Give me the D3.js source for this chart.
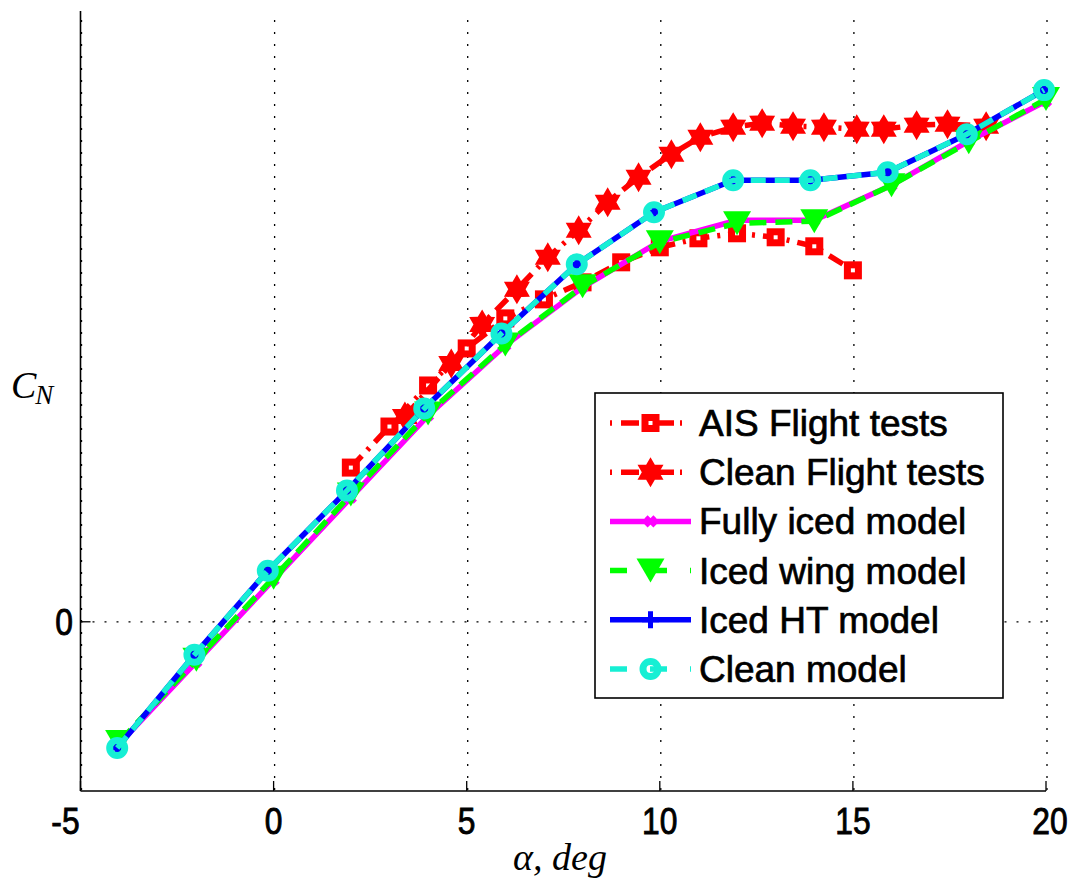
<!DOCTYPE html>
<html>
<head>
<meta charset="utf-8">
<script src="https://cdn.jsdelivr.net/npm/d3@7"></script>
<style>
  body { margin: 0; background: #fff; }
  svg { display: block; }
</style>
</head>
<body>
<div class="cn-chart"></div>
<script>
// angle of attack, deg
const alphaModel = [-4, -2, 0, 2, 4, 6, 8, 10, 12, 14, 16, 18, 20];
const alphaCleanModel = [-4.05, -2.05, -0.15, 1.9, 3.9, 5.9, 7.85, 9.85, 11.9, 13.9, 15.9, 17.95, 19.95];
const alphaAIS = [2, 3, 4, 5, 6, 7, 8, 9, 10, 11, 12, 13, 14, 15];
const alphaCleanFT = [3.4, 4.6, 5.4, 6.3, 7.1, 7.9, 8.65, 9.45, 10.3, 11.05, 11.9, 12.65, 13.45, 14.25, 15.1, 15.8, 16.65, 17.45, 18.45];

// normal force coefficient
const cnAIS = [0.385, 0.4875, 0.59, 0.6825, 0.7575, 0.805, 0.8475, 0.8975, 0.935, 0.9575, 0.97, 0.96, 0.9375, 0.8775];
const cnCleanFT = [0.5125, 0.645, 0.7425, 0.83, 0.91, 0.9775, 1.0475, 1.11, 1.1675, 1.21, 1.235, 1.245, 1.2375, 1.235, 1.23, 1.23, 1.24, 1.2425, 1.2375];
const cnFullyIced = [-0.305, -0.1, 0.105, 0.31, 0.515, 0.69, 0.835, 0.95, 1.0025, 1.0025, 1.09, 1.2, 1.3];
const cnIcedWing = [-0.3, -0.095, 0.11, 0.3175, 0.52, 0.6925, 0.8375, 0.9475, 0.995, 1.0, 1.09, 1.1975, 1.305];
const cnIcedHT = [-0.315, -0.0825, 0.1275, 0.3275, 0.5325, 0.72, 0.8925, 1.0225, 1.1025, 1.1025, 1.1225, 1.2175, 1.3275];
const cnCleanModel = [-0.315, -0.0825, 0.1275, 0.3275, 0.5325, 0.72, 0.8925, 1.0225, 1.1025, 1.1025, 1.1225, 1.2175, 1.3275];

const xTicks = [-5, 0, 5, 10, 15, 20];
const yTicks = [0];
const legendLabels = ["AIS Flight tests", "Clean Flight tests", "Fully iced model", "Iced wing model", "Iced HT model", "Clean model"];

const width = 1069, height = 878;
const plot = { left: 80.5, right: 1046, top: 11, bottom: 791 };
const cyan = "#16efd4";
const lineWidth = 5.5;

const zip = (xs, ys) => xs.map((x, i) => [x, ys[i]]);

const series = [
  { name: legendLabels[0], data: zip(alphaAIS, cnAIS), color: "#ff0000", dash: "16,8,3,8", marker: "square" },
  { name: legendLabels[1], data: zip(alphaCleanFT, cnCleanFT), color: "#ff0000", dash: "16,8,3,8", marker: "hexagram" },
  { name: legendLabels[2], data: zip(alphaModel, cnFullyIced), color: "#ff00ff", dash: null, marker: "cross" },
  { name: legendLabels[3], data: zip(alphaModel, cnIcedWing), color: "#00ff00", dash: "17,9", marker: "triangle" },
  { name: legendLabels[4], data: zip(alphaCleanModel, cnIcedHT), color: "#0000ff", dash: null, marker: "plus" },
  { name: legendLabels[5], data: zip(alphaCleanModel, cnCleanModel), color: cyan, dash: "15,9", marker: "ring" }
];

const svg = d3.select(".cn-chart")
  .append("svg")
  .attr("width", width)
  .attr("height", height);

svg.append("rect").attr("width", width).attr("height", height).attr("fill", "#fff");

const x = d3.scaleLinear().domain([-5, 20]).range([plot.left, plot.right]);
const y = d3.scaleLinear().domain([-0.4225, 1.525]).range([plot.bottom, plot.top]);

// six pointed star
const hexagramPath = r => {
  const pts = [];
  for (let i = 0; i < 12; i++) {
    const a = Math.PI / 6 * i - Math.PI / 2;
    const rr = i % 2 === 0 ? r : r * 0.58;
    pts.push([rr * Math.cos(a), rr * Math.sin(a)]);
  }
  return "M" + pts.map(p => p.join(",")).join("L") + "Z";
}

const drawMarker = (g, type, color) => {
  if (type === "square") {
    g.append("rect").attr("x", -5.5).attr("y", -5.5).attr("width", 11).attr("height", 11)
      .attr("fill", "#fff").attr("stroke", color).attr("stroke-width", 7);
  } else if (type === "hexagram") {
    g.append("path").attr("d", hexagramPath(15)).attr("fill", color);
  } else if (type === "cross") {
    g.append("path").attr("d", "M-4.5,-4.5L4.5,4.5M-4.5,4.5L4.5,-4.5")
      .attr("stroke", color).attr("stroke-width", 4.5).attr("fill", "none");
  } else if (type === "triangle") {
    g.append("path").attr("d", "M-14,-12L14,-12L0,12Z").attr("fill", color);
  } else if (type === "plus") {
    g.append("path").attr("d", "M0,-8.5V8.5M-8.5,0H8.5")
      .attr("stroke", color).attr("stroke-width", 5).attr("fill", "none");
  } else if (type === "ring") {
    g.append("circle").attr("r", 7.5).attr("fill", "none")
      .attr("stroke", color).attr("stroke-width", 7);
  }
}

// grid
const grid = svg.append("g").attr("class", "grid");
grid.selectAll(".vgrid")
  .data(xTicks)
  .enter()
  .append("line")
  .attr("x1", d => x(d) + 1).attr("x2", d => x(d) + 1)
  .attr("y1", plot.top + 9).attr("y2", plot.bottom)
  .attr("stroke", "#000").attr("stroke-width", 1.3)
  .attr("stroke-dasharray", "2,10");
grid.selectAll(".hgrid")
  .data(yTicks)
  .enter()
  .append("line")
  .attr("x1", plot.left).attr("x2", plot.right)
  .attr("y1", d => y(d)).attr("y2", d => y(d))
  .attr("stroke", "#000").attr("stroke-width", 1.3)
  .attr("stroke-dasharray", "2,10");

// axes
const axes = svg.append("g").attr("class", "axes");
axes.append("line")
  .attr("x1", plot.left).attr("x2", plot.left)
  .attr("y1", plot.top).attr("y2", plot.bottom)
  .attr("stroke", "#000").attr("stroke-width", 1.6);
axes.append("line")
  .attr("x1", plot.left).attr("x2", plot.right)
  .attr("y1", plot.bottom).attr("y2", plot.bottom)
  .attr("stroke", "#000").attr("stroke-width", 1.6);
axes.selectAll(".xtick")
  .data(xTicks)
  .enter()
  .append("line")
  .attr("x1", d => x(d)).attr("x2", d => x(d))
  .attr("y1", plot.bottom).attr("y2", plot.bottom - 10)
  .attr("stroke", "#000").attr("stroke-width", 1.3);
axes.selectAll(".ytick")
  .data(yTicks)
  .enter()
  .append("line")
  .attr("x1", plot.left).attr("x2", plot.left + 10)
  .attr("y1", d => y(d)).attr("y2", d => y(d))
  .attr("stroke", "#000").attr("stroke-width", 1.3);

axes.selectAll(".xlabel")
  .data(xTicks)
  .enter()
  .append("text")
  .attr("transform", d => {
    const px = d === -5 ? x(d) - 15 : x(d) + (d === 20 ? 4 : 0);
    return `translate(${px},${plot.bottom + 43}) scale(0.86,1)`;
  })
  .attr("text-anchor", "middle")
  .attr("font-family", "Liberation Sans, Arial, sans-serif")
  .attr("font-size", 37)
  .attr("stroke", "#000").attr("stroke-width", 0.9)
  .text(d => d);

axes.selectAll(".ylabel")
  .data(yTicks)
  .enter()
  .append("text")
  .attr("transform", d => `translate(73,${y(d) + 13}) scale(0.86,1)`)
  .attr("text-anchor", "end")
  .attr("font-family", "Liberation Sans, Arial, sans-serif")
  .attr("font-size", 37)
  .attr("stroke", "#000").attr("stroke-width", 0.9)
  .text(d => d);

// axis titles
const cnLabel = svg.append("text")
  .attr("x", 11).attr("y", 398)
  .attr("font-family", "Liberation Serif, Times New Roman, serif")
  .attr("font-style", "italic")
  .attr("font-size", 38);
cnLabel.append("tspan").text("C");
cnLabel.append("tspan").attr("dy", 6).attr("dx", -1).attr("font-size", 27).text("N");

svg.append("text")
  .attr("x", 560).attr("y", 870)
  .attr("text-anchor", "middle")
  .attr("font-family", "Liberation Serif, Times New Roman, serif")
  .attr("font-style", "italic")
  .attr("font-size", 38)
  .text("α, deg");

// series
const line = d3.line().x(d => x(d[0])).y(d => y(d[1]));
const layers = svg.append("g").attr("class", "series");

series.forEach(s => {
  const g = layers.append("g");
  g.append("path")
    .datum(s.data)
    .attr("d", line)
    .attr("fill", "none")
    .attr("stroke", s.color)
    .attr("stroke-width", lineWidth)
    .attr("stroke-dasharray", s.dash)
    .attr("stroke-linejoin", "round");
  g.selectAll(".mk")
    .data(s.data)
    .enter()
    .append("g")
    .attr("transform", d => `translate(${x(d[0])},${y(d[1])})`)
    .each(function () { drawMarker(d3.select(this), s.marker, s.color); });
});

// legend
const legend = svg.append("g").attr("class", "legend");
legend.append("rect")
  .attr("x", 595).attr("y", 393).attr("width", 408).attr("height", 305)
  .attr("fill", "#fff").attr("stroke", "#000").attr("stroke-width", 1.6);

const rows = legend.selectAll(".row")
  .data(series)
  .enter()
  .append("g")
  .attr("transform", (d, i) => `translate(0,${423 + i * 49.2})`);

rows.append("line")
  .attr("x1", 610).attr("x2", 691)
  .attr("y1", 0).attr("y2", 0)
  .attr("stroke", d => d.color)
  .attr("stroke-width", lineWidth)
  .attr("stroke-dasharray", d => d.dash ? (d.dash.split(",").length > 2 ? "2,9,18,6" : "17,23") : null);

rows.append("g")
  .attr("transform", "translate(650.5,0)")
  .each(function (d) { drawMarker(d3.select(this), d.marker, d.color); });

rows.append("text")
  .attr("x", 699).attr("y", 13)
  .attr("font-family", "Liberation Sans, Arial, sans-serif")
  .attr("font-size", 37)
  .attr("stroke", "#000").attr("stroke-width", 0.7)
  .text(d => d.name);
</script>
</body>
</html>
